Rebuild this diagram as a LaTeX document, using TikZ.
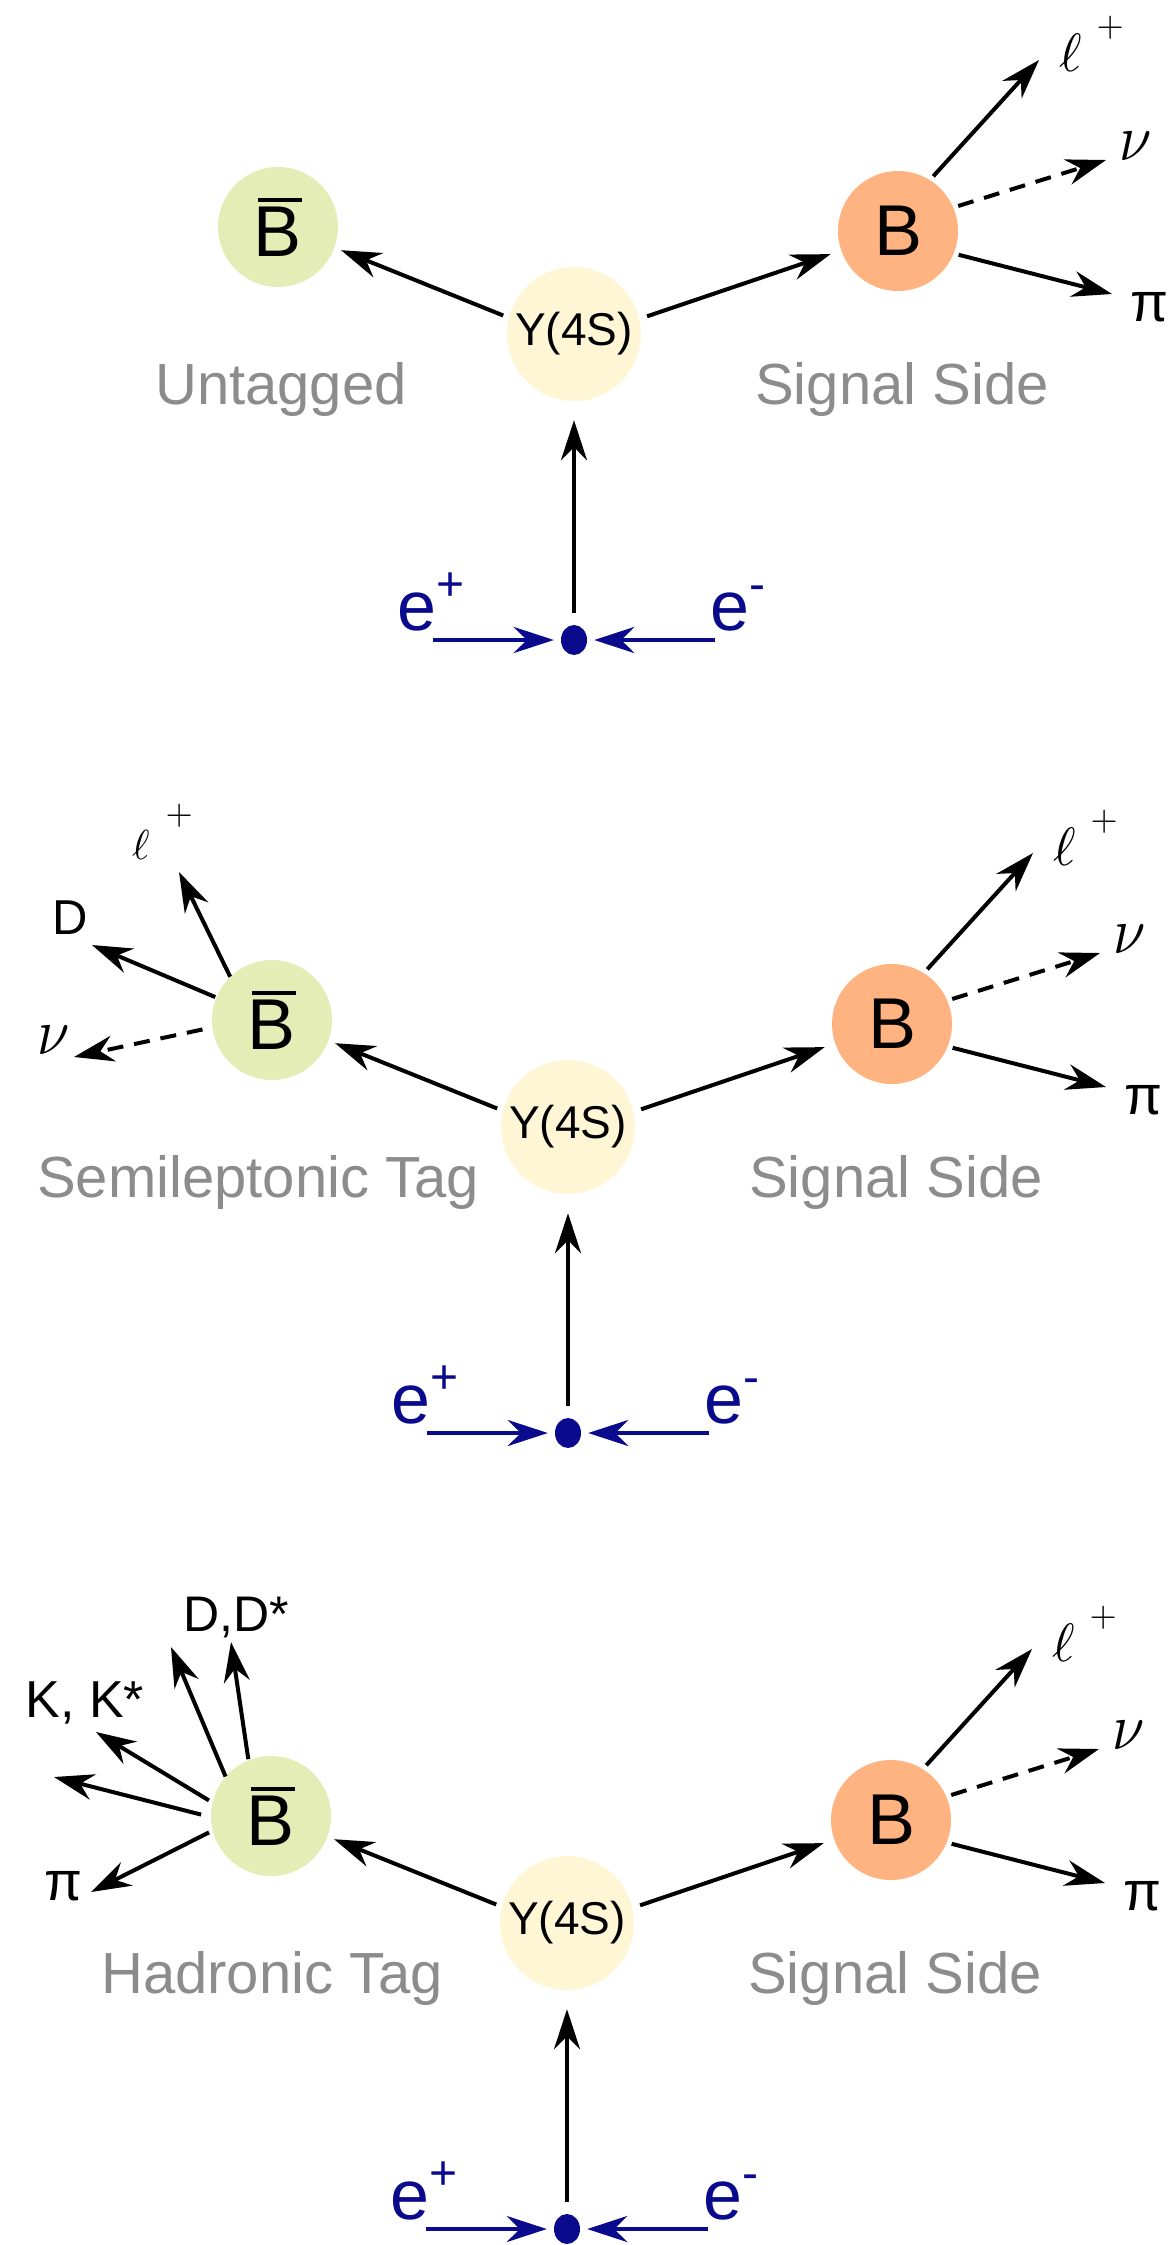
\documentclass[tikz,border=0pt]{standalone}
\usepackage{graphicx}
\usepackage{fontspec}
\setmainfont{Liberation Sans}
\usetikzlibrary{arrows.meta,shapes.geometric}

\definecolor{tagfill}{HTML}{E3EDB5}
\definecolor{sigfill}{HTML}{FFB380}
\definecolor{upsfill}{HTML}{FFF6D5}
\definecolor{sidegray}{HTML}{8C8C8C}
\definecolor{beamblue}{HTML}{0A0A8C}

\newcommand\fsz[1]{\fontsize{#1}{#1}\selectfont}
% B with a bar on top (anti-B meson)
\newcommand\antiB{\makebox[0pt][l]{\hspace{4pt}\raisebox{54pt}{\rule{44pt}{4pt}}}B}
% large math symbols for the lepton and the neutrino (10pt glyphs, scaled up)
\newcommand\bigell[1]{\scalebox{#1}{\fsz{10}$\ell$}}
\newcommand\bignu{\scalebox{5.8}[6.6]{\fsz{10}$\nu$}}
\newcommand\bigplus{\scalebox{3.5}{\fsz{10}$+$}}

\tikzset{
  phead/.tip={Stealth[length=40pt,width=26pt,inset=13pt]},
  decay/.style={line width=4pt, black, -phead},
  invisible/.style={decay, dash pattern=on 16pt off 11pt},
  beam/.style={line width=4pt, beamblue, -phead},
  ball/.style={circle, inner sep=0pt, minimum size=120pt, font=\fsz{72}},
  tagball/.style={ball, fill=tagfill},
  sigball/.style={ball, fill=sigfill},
  upsball/.style={circle, inner sep=0pt, minimum size=134pt, fill=upsfill, font=\fsz{46}},
  vertex/.style={ellipse, fill=beamblue, inner sep=0pt, minimum width=26pt, minimum height=30pt},
  sidelabel/.style={anchor=base, text=sidegray, font=\fsz{58}, inner sep=0pt},
  particle/.style={inner sep=0pt, font=\fsz{54}},
  beamlabel/.style={anchor=base west, inner sep=0pt, text=beamblue, font=\fsz{70}},
}

% One e+e- -> Y(4S) -> B Bbar event, drawn around the Y(4S) at the origin.
% #1 panel id, #2 x of the tag-side caption, #3 caption text
\newcommand\eventcore[3]{%
  \node[upsball] (ups#1) at (0,0) {Y(4S)};
  \node[tagball] (tag#1) at (-296,-107) {\antiB};
  \node[sigball] (sig#1) at (324,-103) {B};
  \node[vertex] (ip#1) at (0,306) {};
  \coordinate (pos#1) at (-141,306);
  \coordinate (ele#1) at (141,306);
  \draw[decay, shorten <=6pt, shorten >=7pt] (ups#1.166) -- (tag#1.340);
  \draw[decay, shorten <=8pt, shorten >=11pt] (ups#1.13) -- (sig#1.199);
  \draw[decay, shorten <=12pt, shorten >=19pt] (ip#1.north) -- (ups#1.south);
  \draw[beam, shorten >=7pt] (pos#1) -- (ip#1.west);
  \draw[beam, shorten >=7pt] (ele#1) -- (ip#1.east);
  \node[beamlabel] (poslabel#1) at (-177,296) {e\raisebox{30pt}{\fsz{48}+}};
  \node[beamlabel] (elelabel#1) at (136,296) {e\raisebox{30pt}{\fsz{48}-}};
  \node[sidelabel] (tagcap#1) at (#2,70) {#3};
  \node[sidelabel] (sigcap#1) at (328,70) {Signal Side};
  % signal-side decay B -> pi l nu
  \begin{scope}[shift={(324,-103)}]
    \coordinate (lepend#1) at (141,-171);
    \coordinate (nuend#1) at (208,-71);
    \coordinate (piend#1) at (214,63);
    \draw[decay, shorten <=5pt] (sig#1.58) -- (lepend#1);
    \draw[invisible, shorten <=5pt] (sig#1.23) -- (nuend#1);
    \draw[decay, shorten <=5pt] (sig#1.338) -- (piend#1);
    \node[particle, anchor=base west] (lep#1) at (161,-159)
      {\bigell{5.4}\hspace{15pt}\raisebox{35pt}{\bigplus}};
    \node[particle] (nu#1) at (238,-85) {\bignu};
    \node[particle, font=\fsz{55}] (pi#1) at (251,76) {π};
  \end{scope}
}

\begin{document}
\begin{tikzpicture}[x=1pt,y=-1pt]
\useasboundingbox (0,0) rectangle (1173,2245);

% untagged
\begin{scope}[shift={(574,334)}]
  \eventcore{1}{-293}{Untagged}
\end{scope}

% semileptonic tag
\begin{scope}[shift={(568,1127)}]
  \eventcore{2}{-310}{Semileptonic Tag}
  \begin{scope}[shift={(-296,-107)}]
    \coordinate (ltagend2) at (-93,-148);
    \coordinate (dtagend2) at (-180,-75);
    \coordinate (ntagend2) at (-198,37);
    \draw[decay] (tag2.134) -- (ltagend2);
    \draw[decay, shorten <=1pt] (tag2.158) -- (dtagend2);
    \draw[invisible, shorten <=10pt] (tag2.187) -- (ntagend2);
    \node[particle, anchor=base west] (ltag2) at (-140,-161)
      {\bigell{4.2}\hspace{16pt}\raisebox{35pt}{\bigplus}};
    \node[particle, font=\fsz{49}, anchor=base] (dtag2) at (-202,-86) {D};
    \node[particle] (ntag2) at (-218,20) {\bignu};
  \end{scope}
\end{scope}

% hadronic tag
\begin{scope}[shift={(567,1923)}]
  \eventcore{3}{-295}{Hadronic Tag}
  \begin{scope}[shift={(-296,-107)}]
    \coordinate (hadA3) at (-40,-174);
    \coordinate (hadB3) at (-100,-169);
    \coordinate (hadC3) at (-175,-84);
    \coordinate (hadD3) at (-217,-39);
    \coordinate (hadE3) at (-180,76);
    \draw[decay, shorten <=1pt] (tag3.112) -- (hadA3);
    \draw[decay] (tag3.139) -- (hadB3);
    \draw[decay, shorten <=4pt] (tag3.167) -- (hadC3);
    \draw[decay, shorten <=10pt] (tag3.181) -- (hadD3);
    \draw[decay, shorten <=4pt] (tag3.194) -- (hadE3);
    \node[particle, font=\fsz{50}, anchor=base] (dd3) at (-35,-185) {D,D*};
    \node[particle, font=\fsz{52}, anchor=base] (kk3) at (-186,-99) {K, K*};
    \node[particle, font=\fsz{55}] (pitag3) at (-208,70) {π};
  \end{scope}
\end{scope}
\end{tikzpicture}
\end{document}
